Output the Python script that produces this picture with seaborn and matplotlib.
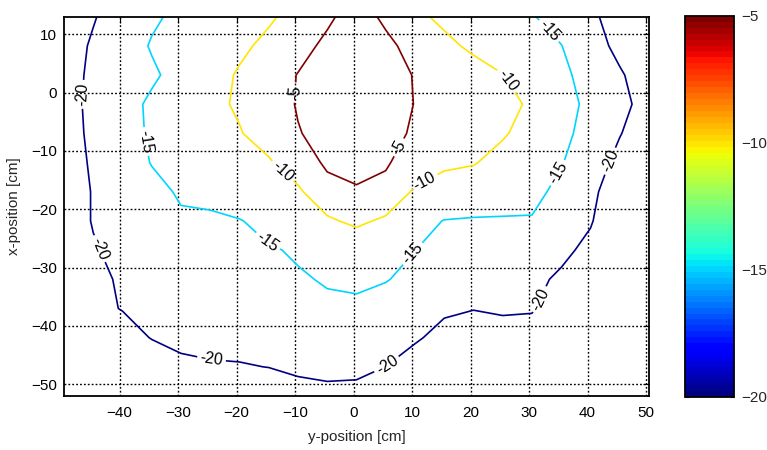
import matplotlib
matplotlib.use("Agg")
import numpy as np
import matplotlib.pyplot as plt
from matplotlib.colors import Normalize
from matplotlib.cm import ScalarMappable
import seaborn as sns

# measurement grid: columns = y-position, rows = x-position (cm)
y_cm = [-49.5, -44.5, -39.5, -34.5, -29.5, -24.5, -19.5, -14.5, -9.5, -4.5, 0.5,
        5.5, 10.5, 15.5, 20.5, 25.5, 30.5, 35.5, 40.5, 45.5, 50.5]
x_cm = [13, 8, 3, -2, -7, -12, -17, -22, -27, -32, -37, -42, -47, -52]

# level in dB, one row per x-position
level_db = [
    [-22.6, -20.3, -17.9, -15.6, -14.1, -12.9, -11.75, -10.57, -8.6, -5.8, -3.0,
     -5.84, -9.1, -10.9, -12.2, -13.4, -14.7, -16.85, -19.35, -21.5, -23.0],
    [-22.0, -19.5, -16.97, -14.7, -13.4, -12.1, -10.8, -9.05, -6.55, -4.05, -2.8,
     -4.0, -6.5, -9.0, -10.8, -12.2, -13.5, -14.9, -18.0, -21.2, -22.5],
    [-21.5, -19.3, -17.45, -15.6, -13.64, -11.64, -9.58, -7.2, -4.85, -3.5, -2.8,
     -3.5, -5.19, -6.75, -8.3, -9.9, -11.95, -14.07, -16.6, -19.5, -22.4],
    [-21.6, -19.03, -16.5, -14.34, -12.75, -11.17, -9.39, -7.06, -4.72, -3.6, -3.0,
     -3.6, -5.08, -6.37, -7.66, -8.95, -10.5, -13.28, -16.06, -18.83, -21.6],
    [-21.75, -19.18, -16.6, -14.47, -13.07, -11.68, -10.28, -7.98, -5.2, -3.8, -3.4,
     -3.9, -5.44, -6.82, -8.2, -9.58, -11.6, -13.86, -16.6, -19.8, -22.5],
    [-21.9, -19.5, -17.1, -14.84, -13.69, -12.54, -11.39, -10.5, -7.46, -4.27, -3.9,
     -4.71, -6.39, -9.5, -9.74, -11.4, -13.07, -14.73, -17.84, -21.2, -23.0],
    [-22.0, -19.8, -17.96, -16.1, -14.56, -13.47, -12.38, -11.29, -10.76, -6.55, -5.35,
     -5.75, -10.81, -11.23, -12.3, -13.36, -13.6, -16.32, -19.2, -22.07, -23.5],
    [-22.0, -19.8, -18.6, -17.2, -15.5, -15.9, -15.2, -13.75, -12.2, -10.76, -8.9,
     -10.93, -13.3, -15.15, -15.37, -15.31, -15.35, -17.8, -19.8, -22.0, -23.5],
    [-22.5, -20.3, -19.0, -18.3, -17.6, -16.9, -16.2, -15.34, -14.6, -14.3, -13.9,
     -14.3, -14.97, -15.9, -16.8, -17.67, -18.56, -19.46, -20.6, -22.5, -24.0],
    [-22.5, -20.5, -19.75, -19.03, -18.3, -17.6, -16.86, -16.13, -15.34, -14.73, -14.5,
     -14.85, -15.8, -16.7, -17.6, -18.53, -19.45, -20.37, -21.3, -22.5, -24.0],
    [-23.0, -20.6, -19.9, -19.3, -18.7, -18.07, -17.45, -16.83, -16.2, -15.57, -15.5,
     -16.2, -18.5, -19.5, -19.9, -19.6, -19.9, -20.7, -21.5, -23.0, -24.5],
    [-23.5, -22.0, -21.0, -19.9, -19.3, -19.1, -19.0, -18.6, -18.1, -17.6, -17.3,
     -18.5, -19.6, -21.0, -21.6, -21.25, -20.5, -21.3, -22.0, -23.5, -25.0],
    [-24.5, -23.5, -22.5, -21.5, -20.6, -20.3, -20.2, -19.95, -19.4, -19.2, -19.2,
     -20.02, -21.5, -22.0, -22.5, -22.5, -22.3, -22.6, -23.0, -24.5, -26.0],
    [-26.0, -25.0, -24.3, -23.5, -23.0, -22.6, -22.3, -22.0, -21.2, -20.8, -21.0,
     -22.0, -22.8, -23.3, -23.8, -24.0, -24.0, -24.3, -24.8, -25.5, -27.0],
]

contour_levels = [-20, -15, -10, -5]
cbar_ticks = [-20, -15, -10, -5]
xticks = [-40, -30, -20, -10, 0, 10, 20, 30, 40, 50]
yticks = [-50, -40, -30, -20, -10, 0, 10]

# where the inline labels sit (data coords)
label_spots = [(-46.6, -0.3), (-36.1, -8.5), (-12.2, -13.6), (-10.1, 0.0),
               (7.4, -9.2), (11.8, -14.5), (27.1, 2.6), (34.1, 11.2),
               (35.3, -14.0), (44.2, -11.9), (32.2, -35.6), (5.8, -46.8),
               (-24.3, -45.9), (-43.5, -26.8), (-13.9, -24.7), (10.1, -27.6)]

sns.set_style("white")
plt.rcParams["font.family"] = ["Liberation Sans", "DejaVu Sans"]

jet64 = plt.get_cmap("jet").resampled(64)
norm = Normalize(vmin=-20, vmax=-5)

fig = plt.figure(figsize=(7.67, 4.5), dpi=100)
ax = fig.add_axes([0.0834, 0.12, 0.7627, 0.843])
cax = fig.add_axes([0.893, 0.118, 0.0639, 0.847])

Y, X = np.meshgrid(y_cm, x_cm)
cs = ax.contour(Y, X, np.array(level_db), levels=contour_levels,
                cmap=jet64, norm=norm, linewidths=1.2)
ax.clabel(cs, fmt="%d", fontsize=11.5, colors="black", inline=True,
          inline_spacing=3, manual=label_spots)

ax.set_xlim(-49.5, 50.5)
ax.set_ylim(-52, 13)
ax.set_xticks(xticks)
ax.set_yticks(yticks)
ax.grid(True, color="black", linestyle=(0, (1.3, 1.5)), linewidth=1.0)
ax.tick_params(direction="in", top=True, right=True, length=4,
               labelsize=11, colors="black")
ax.tick_params(axis="x", pad=7.5)
ax.tick_params(axis="y", pad=5)
for sp in ax.spines.values():
    sp.set_color("black")
    sp.set_linewidth(1.3)
ax.set_xlabel("y-position [cm]", fontsize=11, labelpad=7)
ax.set_ylabel("x-position [cm]", fontsize=11, labelpad=7)

cb = fig.colorbar(ScalarMappable(norm=norm, cmap=jet64), cax=cax, ticks=cbar_ticks)
cax.tick_params(direction="in", left=True, right=True, length=3,
                labelsize=11, pad=5.5)
cb.outline.set_edgecolor("black")
cb.outline.set_linewidth(1.3)

fig.savefig("out.png", dpi=100)
